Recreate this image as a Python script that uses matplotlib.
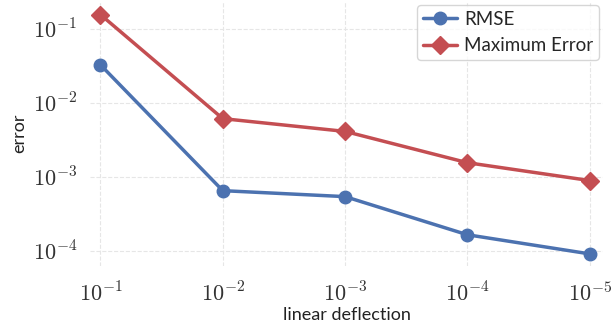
import numpy as np
import matplotlib
matplotlib.use("Agg")
import matplotlib.pyplot as plt
import seaborn as sns

deflection = [1e-1, 1e-2, 1e-3, 1e-4, 1e-5]
rmse = [3.25e-2, 6.5e-4, 5.4e-4, 1.65e-4, 9.1e-5]
max_error = [1.55e-1, 6.1e-3, 4.1e-3, 1.55e-3, 8.9e-4]
x_ticklabels = [r"$10^{-1}$", r"$10^{-2}$", r"$10^{-3}$", r"$10^{-4}$", r"$10^{-5}$"]
y_ticks = [1e-1, 1e-2, 1e-3, 1e-4]
y_ticklabels = [r"$10^{-1}$", r"$10^{-2}$", r"$10^{-3}$", r"$10^{-4}$"]

sns.set_style("whitegrid", {"grid.linestyle": "--", "grid.color": "#e6e6e6"})
plt.rcParams['font.family'] = ['Lato', 'DejaVu Sans']
plt.rcParams['mathtext.fontset'] = 'cm'

fig, ax = plt.subplots(figsize=(6.15, 3.28), dpi=100)
blue = "#4C72B0"
red = "#C44E52"
ax.plot(deflection, rmse, "-o", color=blue, lw=2.5, ms=9, label="RMSE")
ax.plot(deflection, max_error, "-D", color=red, lw=2.5, ms=9, label="Maximum Error")
ax.set_xscale("log")
ax.set_yscale("log")
ax.set_xlim(10**-0.918, 10**-5.106)
ax.set_ylim(10**-4.2, 10**-0.635)
ax.minorticks_off()
ax.set_xticks(deflection)
ax.set_xticklabels(x_ticklabels)
ax.set_yticks(y_ticks)
ax.set_yticklabels(y_ticklabels)
ax.tick_params(labelsize=16, colors="#333333", pad=6)
ax.tick_params(axis="x", pad=8)
for s in ax.spines.values():
    s.set_visible(False)
ax.set_xlabel("linear deflection", fontsize=13, color="#222222", labelpad=1)
ax.set_ylabel("error", fontsize=13, color="#222222", labelpad=4)
leg = ax.legend(loc="upper right", fontsize=13.5, frameon=True, borderpad=0.3,
                handlelength=1.8, handletextpad=0.4, borderaxespad=0.2)
leg.get_frame().set_edgecolor("#cccccc")

plt.subplots_adjust(left=0.147, right=0.98, top=0.995, bottom=0.19)
plt.savefig("out.png", dpi=100)
